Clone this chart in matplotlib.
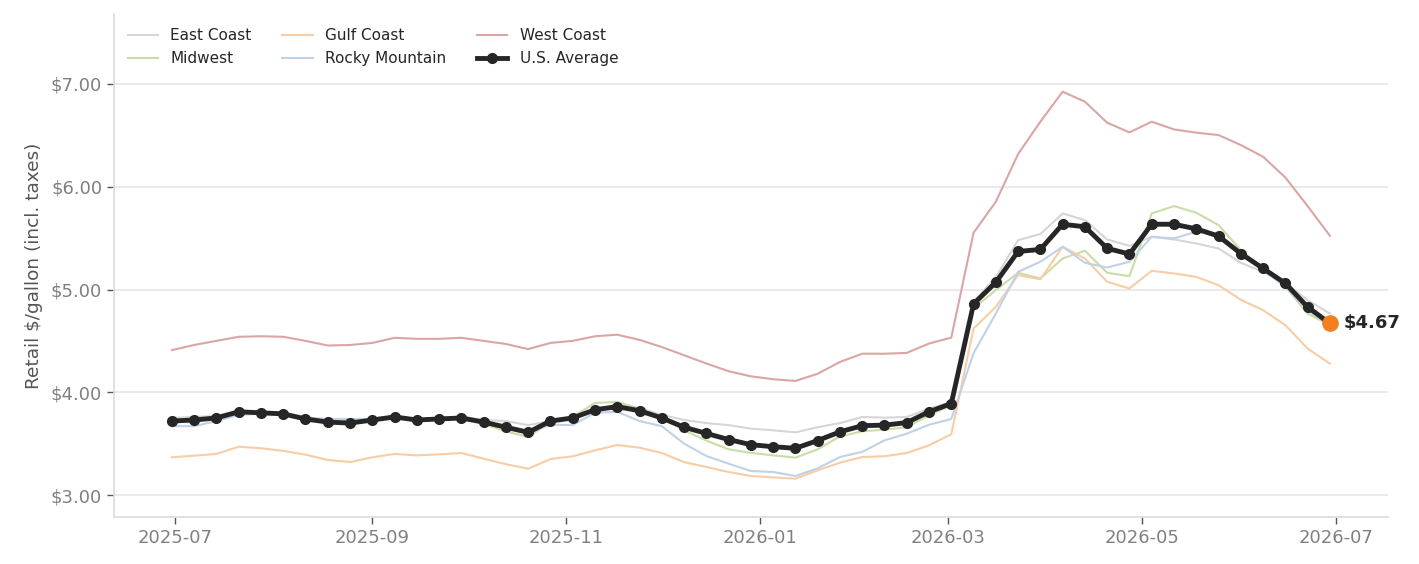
import matplotlib
matplotlib.use("Agg")
import matplotlib.pyplot as plt
import matplotlib.dates as mdates
import matplotlib.ticker as mticker
import pandas as pd

# ---- data ----
week_start = "2025-06-30"
n_weeks = 53
dates = pd.date_range(week_start, periods=n_weeks, freq="7D")

us_average = [3.72, 3.73, 3.75, 3.81, 3.80, 3.79, 3.74, 3.71, 3.70, 3.73,
              3.76, 3.73, 3.74, 3.75, 3.71, 3.66, 3.61, 3.72, 3.75, 3.83,
              3.86, 3.82, 3.75, 3.66, 3.60, 3.54, 3.49, 3.47, 3.455, 3.53,
              3.615, 3.675, 3.68, 3.705, 3.81, 3.89, 4.86, 5.07, 5.37, 5.39,
              5.635, 5.61, 5.40, 5.345, 5.635, 5.635, 5.59, 5.52, 5.35, 5.205,
              5.06, 4.83, 4.67]
east_coast = [3.75, 3.76, 3.77, 3.82, 3.81, 3.80, 3.76, 3.73, 3.73, 3.74,
              3.77, 3.74, 3.75, 3.76, 3.73, 3.72, 3.68, 3.72, 3.76, 3.84,
              3.87, 3.845, 3.78, 3.73, 3.70, 3.68, 3.646, 3.63, 3.61, 3.66,
              3.70, 3.76, 3.753, 3.76, 3.84, 3.906, 4.88, 5.12, 5.48, 5.54,
              5.74, 5.675, 5.487, 5.425, 5.513, 5.487, 5.448, 5.399, 5.26, 5.172,
              5.065, 4.896, 4.766]
midwest = [3.73, 3.74, 3.76, 3.79, 3.79, 3.79, 3.74, 3.70, 3.70, 3.73,
           3.75, 3.72, 3.74, 3.74, 3.69, 3.62, 3.565, 3.71, 3.76, 3.896,
           3.906, 3.84, 3.75, 3.63, 3.53, 3.445, 3.41, 3.386, 3.364, 3.445,
           3.57, 3.62, 3.636, 3.66, 3.776, 3.873, 4.815, 4.994, 5.162, 5.107,
           5.302, 5.377, 5.162, 5.13, 5.74, 5.812, 5.747, 5.627, 5.383, 5.195,
           5.026, 4.766, 4.653]
gulf_coast = [3.367, 3.383, 3.40, 3.47, 3.455, 3.43, 3.393, 3.341, 3.321, 3.367,
              3.40, 3.386, 3.396, 3.409, 3.354, 3.30, 3.256, 3.35, 3.377, 3.435,
              3.487, 3.461, 3.409, 3.32, 3.273, 3.224, 3.185, 3.172, 3.159, 3.24,
              3.315, 3.37, 3.377, 3.409, 3.484, 3.591, 4.62, 4.831, 5.14, 5.10,
              5.416, 5.302, 5.075, 5.01, 5.182, 5.156, 5.123, 5.042, 4.90, 4.799,
              4.653, 4.425, 4.279]
rocky_mountain = [3.67, 3.67, 3.72, 3.78, 3.79, 3.78, 3.75, 3.74, 3.74, 3.74,
                  3.75, 3.73, 3.74, 3.74, 3.705, 3.65, 3.60, 3.685, 3.68, 3.80,
                  3.81, 3.72, 3.67, 3.50, 3.38, 3.305, 3.234, 3.224, 3.185, 3.26,
                  3.37, 3.42, 3.532, 3.597, 3.684, 3.74, 4.38, 4.766, 5.172, 5.27,
                  5.416, 5.26, 5.214, 5.27, 5.513, 5.497, 5.562, 5.529, 5.334, 5.188,
                  5.026, 4.799, 4.653]
west_coast = [4.41, 4.46, 4.50, 4.54, 4.545, 4.54, 4.50, 4.455, 4.46, 4.48,
              4.53, 4.52, 4.52, 4.53, 4.50, 4.47, 4.42, 4.48, 4.50, 4.545,
              4.56, 4.51, 4.44, 4.36, 4.28, 4.205, 4.155, 4.127, 4.11, 4.18,
              4.295, 4.375, 4.375, 4.383, 4.474, 4.532, 5.552, 5.854, 6.318, 6.633,
              6.925, 6.828, 6.623, 6.529, 6.633, 6.558, 6.526, 6.503, 6.406, 6.292,
              6.09, 5.812, 5.523]

regions = ["East Coast", "Midwest", "Gulf Coast", "Rocky Mountain", "West Coast"]
region_values = [east_coast, midwest, gulf_coast, rocky_mountain, west_coast]
region_colors = ["#d6d6d6", "#c9dda6", "#f8cda5", "#bfd2e8", "#dba5a5"]
latest_label = "$4.67"

# ---- plot ----
fig = plt.figure(figsize=(14.19, 5.64), dpi=100)
ax = fig.add_axes([0.0803, 0.0833, 0.8977, 0.8917])

for name, vals, col in zip(regions, region_values, region_colors):
    ax.plot(dates, vals, color=col, lw=1.5, label=name, zorder=2)

ax.plot(dates, us_average, color="#262626", lw=3.5, marker="o", markersize=7,
        label="U.S. Average", zorder=4)
ax.plot(dates[-1:], us_average[-1:], "o", color="#f47f20", markersize=11, zorder=5)
ax.annotate(latest_label.replace("$", r"\$"), (dates[-1], us_average[-1]),
            xytext=(10, 0), textcoords="offset points", va="center", ha="left",
            fontsize=13, fontweight="bold", color="#262626")

ax.set_ylim(2.786, 7.68)
ax.set_yticks([3, 4, 5, 6, 7])
ax.yaxis.set_major_formatter(mticker.FuncFormatter(lambda v, p: r"\$%.2f" % v))
ax.xaxis.set_major_locator(mdates.MonthLocator(bymonth=[1, 3, 5, 7, 9, 11]))
ax.xaxis.set_major_formatter(mdates.DateFormatter("%Y-%m"))
ax.margins(x=0.05)

ax.grid(axis="y", color="#e6e6e6", lw=1.2)
ax.set_axisbelow(True)
for s in ["top", "right"]:
    ax.spines[s].set_visible(False)
for s in ["left", "bottom"]:
    ax.spines[s].set_color("#dcdcdc")
    ax.spines[s].set_linewidth(1.2)
ax.tick_params(axis="both", colors="#555555", labelcolor="#808080", labelsize=13,
               length=5, width=1)
ax.set_ylabel("Retail \\$/gallon (incl. taxes)", fontsize=13.3, color="#555555",
              labelpad=6)

leg = ax.legend(loc="upper left", ncol=3, frameon=False, fontsize=11,
                handlelength=2.0, handletextpad=0.8, columnspacing=2.0,
                labelspacing=0.55, borderaxespad=0.5)
for t in leg.get_texts():
    t.set_color("#262626")

fig.savefig("out.png", dpi=100)
